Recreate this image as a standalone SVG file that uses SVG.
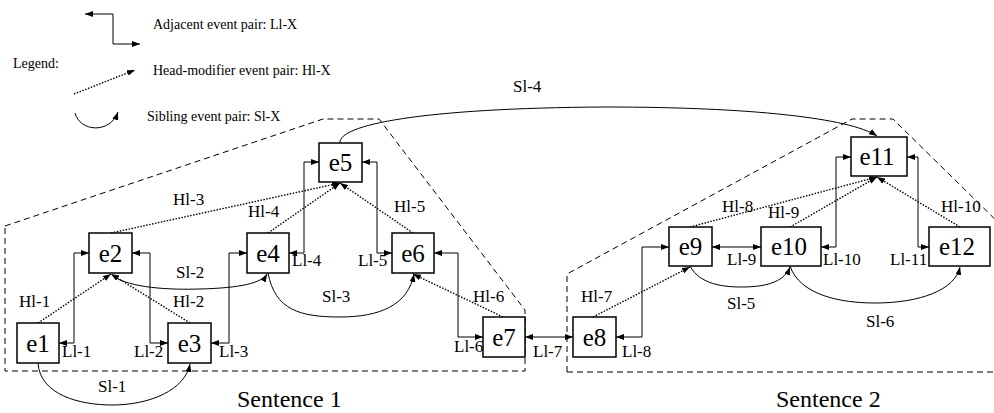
<svg xmlns="http://www.w3.org/2000/svg" width="994" height="413" viewBox="0 0 994 413" font-family="'Liberation Serif', 'Times New Roman', serif">
<style>
text{font-family:'Liberation Serif','Times New Roman',serif;fill:#000}
.nl{font-family:'Liberation Serif','Times New Roman',serif;font-size:25px;text-anchor:middle}
.lb{font-family:'Liberation Serif','Times New Roman',serif;font-size:17px}
.lg{font-family:'Liberation Serif','Times New Roman',serif;font-size:14px}
.st{font-family:'Liberation Serif','Times New Roman',serif;font-size:24px}
.box{fill:#fff;stroke:#000;stroke-width:1.5}
.ll{fill:none;stroke:#000;stroke-width:1;marker-start:url(#ah);marker-end:url(#ah)}
.hl{fill:none;stroke:#000;stroke-width:1.4;stroke-dasharray:1.5 1.5;marker-end:url(#ah)}
.sl{fill:none;stroke:#000;stroke-width:1;marker-end:url(#ah)}
.dash{fill:none;stroke:#000;stroke-width:1;stroke-dasharray:6 4}
</style>
<defs>
<marker id="ah" viewBox="0 0 8 6" refX="8" refY="3" markerWidth="8" markerHeight="6" markerUnits="userSpaceOnUse" orient="auto-start-reverse">
<path d="M0,0 L8,3 L0,6 z" fill="#000"/>
</marker>
</defs>
<rect width="994" height="413" fill="#fff"/>

<g id="legend">
<path class="ll" d="M85,14 H113 V44 H140"/>
<text class="lg" x="153" y="29">Adjacent event pair: Ll-X</text>
<text class="lg" x="13" y="68">Legend:</text>
<path class="hl" d="M74,94 L135,70"/>
<text class="lg" x="153" y="75">Head-modifier event pair: Hl-X</text>
<path class="sl" d="M75,113 C80,132 110,134 118,112"/>
<text class="lg" x="147" y="121">Sibling event pair: Sl-X</text>
</g>

<g id="sentence1">
<path class="dash" d="M5,226 L323,119 L379,119 L525,310 L525,371 L5,371 Z"/>
<text class="st" x="237" y="407">Sentence 1</text>
</g>
<g id="sentence2">
<path class="dash" d="M567,372 L567,274 L852,119 L893,119 L1010,234 M567,372 L994,372"/>
<text class="st" x="776" y="407">Sentence 2</text>
</g>

<g id="connectors">
<path class="ll" d="M59,343 H74 V253 H89"/>
<path class="ll" d="M132,253 H150 V343 H168"/>
<path class="ll" d="M211,343 H229 V253 H247"/>
<path class="ll" d="M289,253 H304 V162 H319"/>
<path class="ll" d="M362,162 H377 V253 H392"/>
<path class="ll" d="M434,253 H458 V337 H483"/>
<path class="ll" d="M525,337 H573"/>
<path class="ll" d="M616,337 H642 V247 H669"/>
<path class="ll" d="M712,247 H761"/>
<path class="ll" d="M821,247 H836 V157 H851"/>
<path class="ll" d="M907,157 H918 V247 H929"/>

<path class="hl" d="M38,323 L111,274"/>
<path class="hl" d="M190,323 L111,274"/>
<path class="hl" d="M111,233 L340,183"/>
<path class="hl" d="M268,233 L340,183"/>
<path class="hl" d="M413,233 L340,183"/>
<path class="hl" d="M503,317 L413,274"/>
<path class="hl" d="M593,317 L690,267"/>
<path class="hl" d="M690,227 L877,177"/>
<path class="hl" d="M790,227 L877,177"/>
<path class="hl" d="M960,227 L877,177"/>

<path class="sl" d="M38,363 C40,395 80,405 112,405 C150,405 185,390 190,364"/>
<path class="sl" d="M113,276 C130,288 170,290 200,289 C240,288 262,283 267,274"/>
<path class="sl" d="M268,273 C275,310 300,317 340,317 C380,317 408,305 414,274"/>
<path class="sl" d="M340,143 C338,125 420,108 606,107 C750,107 850,118 877,136"/>
<path class="sl" d="M690,266 C700,285 725,287 742,287 C770,287 785,280 790,267"/>
<path class="sl" d="M790,266 C800,295 840,303 875,303 C920,303 955,290 960,267"/>

<text class="lb" x="62" y="357">Ll-1</text>
<text class="lb" x="134" y="357">Ll-2</text>
<text class="lb" x="219" y="357">Ll-3</text>
<text class="lb" x="292" y="266">Ll-4</text>
<text class="lb" x="358" y="266">Ll-5</text>
<text class="lb" x="454" y="352">Ll-6</text>
<text class="lb" x="533" y="357">Ll-7</text>
<text class="lb" x="622" y="357">Ll-8</text>
<text class="lb" x="727" y="265">Ll-9</text>
<text class="lb" x="823" y="265">Ll-10</text>
<text class="lb" x="890" y="265">Ll-11</text>

<text class="lb" x="19" y="307">Hl-1</text>
<text class="lb" x="173" y="307">Hl-2</text>
<text class="lb" x="173" y="205">Hl-3</text>
<text class="lb" x="248" y="217">Hl-4</text>
<text class="lb" x="394" y="212">Hl-5</text>
<text class="lb" x="473" y="302">Hl-6</text>
<text class="lb" x="581" y="302">Hl-7</text>
<text class="lb" x="722" y="212">Hl-8</text>
<text class="lb" x="768" y="218">Hl-9</text>
<text class="lb" x="941" y="212">Hl-10</text>

<text class="lb" x="98" y="392">Sl-1</text>
<text class="lb" x="176" y="278">Sl-2</text>
<text class="lb" x="322" y="302">Sl-3</text>
<text class="lb" x="513" y="92">Sl-4</text>
<text class="lb" x="727" y="309">Sl-5</text>
<text class="lb" x="866" y="327">Sl-6</text>
</g>

<g id="e1"><rect class="box" x="17" y="323" width="42" height="40"/><text class="nl" x="38" y="352">e1</text></g>
<g id="e2"><rect class="box" x="89" y="233" width="43" height="40"/><text class="nl" x="110.5" y="262">e2</text></g>
<g id="e3"><rect class="box" x="168" y="323" width="43" height="40"/><text class="nl" x="189.5" y="352">e3</text></g>
<g id="e4"><rect class="box" x="247" y="233" width="42" height="40"/><text class="nl" x="268" y="262">e4</text></g>
<g id="e5"><rect class="box" x="319" y="143" width="43" height="39"/><text class="nl" x="340.5" y="171">e5</text></g>
<g id="e6"><rect class="box" x="392" y="233" width="42" height="40"/><text class="nl" x="413" y="262">e6</text></g>
<g id="e7"><rect class="box" x="483" y="317" width="42" height="40"/><text class="nl" x="504" y="346">e7</text></g>
<g id="e8"><rect class="box" x="573" y="317" width="43" height="40"/><text class="nl" x="594.5" y="346">e8</text></g>
<g id="e9"><rect class="box" x="669" y="227" width="43" height="39"/><text class="nl" x="690.5" y="255">e9</text></g>
<g id="e10"><rect class="box" x="761" y="227" width="60" height="39"/><text class="nl" x="789" y="255">e10</text></g>
<g id="e11"><rect class="box" x="851" y="137" width="56" height="39"/><text class="nl" x="877" y="165">e11</text></g>
<g id="e12"><rect class="box" x="929" y="227" width="61" height="39"/><text class="nl" x="957" y="255">e12</text></g>
</svg>
